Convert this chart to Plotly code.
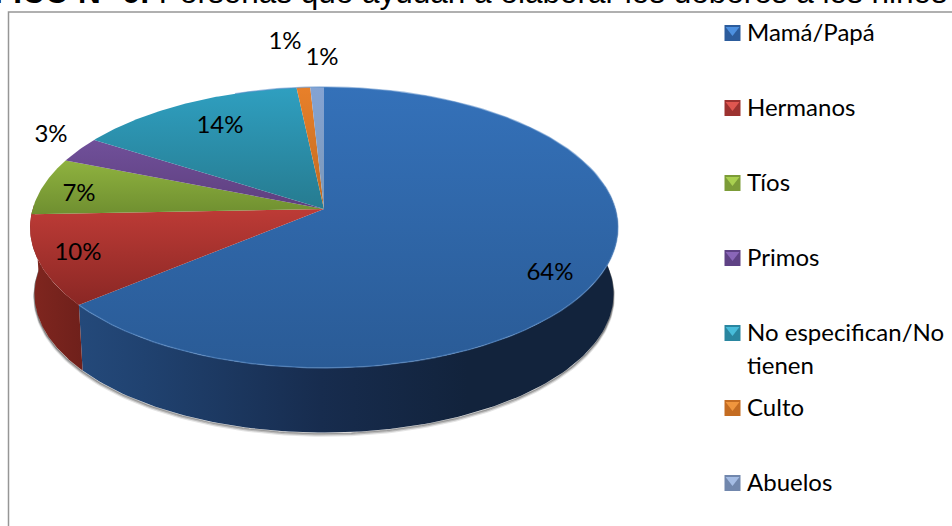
import numpy as np
import plotly.graph_objects as go

# ---- data ----
categories = ["Mamá/Papá", "Hermanos", "Tíos", "Primos", "No especifican/No tienen", "Culto", "Abuelos"]
values = [64.0, 10.4, 6.6, 3.0, 14.3, 0.85, 0.85]
legend_lines = [["Mamá/Papá"], ["Hermanos"], ["Tíos"], ["Primos"], ["No especifican/No", "tienen"], ["Culto"], ["Abuelos"]]
title_bold = "GRÁFICO N° 6:"
title_rest = " Personas que ayudan a elaborar los deberes a los niños"

# ---- styles ----
top_light = ["#3471b9", "#bd3b36", "#8fb23f", "#70509a", "#2f9fc0", "#e8802a", "#84a3d3"]
top_dark = ["#2a5b96", "#8a2724", "#6f8f30", "#5e3f7e", "#267b90", "#c06a20", "#7a98b8"]
swatch_dark = ["#2c5c9c", "#9c3230", "#7c9c38", "#5f4285", "#2a86a0", "#c46c22", "#7187ad"]
swatch_light = ["#4d90e0", "#e05650", "#a9d050", "#8a66b8", "#48bcda", "#f0963e", "#a4bce4"]
label_pos = [(550, 274), (78, 254), (79, 195), (51, 136), (220, 127), (285, 43), (322, 59)]
FONT = "Lato"

# ---- pie geometry (screen px) ----
CX, CY, A, B, P = 324, 209, 291.4, 138, 0.1316
DROP, SHRINK = 67, 0.985


def rim(theta, drop=0.0, k=1.0, r=1.0):
    u, v = r * np.sin(theta), r * np.cos(theta)
    d = 1 + P * v
    return CX + k * A * u / d, CY + drop - k * B * v / d


fig = go.Figure()
total = sum(values)
edges = np.radians(np.cumsum([0] + values) / total * 360)

# soft shadow under the bottom edge
ts = np.radians(np.linspace(75, 285, 200))
for off, alpha, w in [(3, 0.10, 2.5), (2, 0.18, 2), (1, 0.3, 1.5)]:
    x, y = rim(ts, DROP + off, SHRINK)
    fig.add_trace(go.Scatter(x=x, y=y, mode="lines", line=dict(color=f"rgba(0,0,0,{alpha})", width=w),
                             hoverinfo="skip", showlegend=False))

# side wall: first slice from the right extreme, second to the left extreme
walls = [
    (np.radians(80), edges[1], [[0, "#24497a"], [0.12, "#204270"], [0.45, "#172c4e"], [0.72, "#12233c"], [1, "#12233c"]]),
    (edges[1], np.radians(272), [[0, "#80261f"], [1, "#6f201b"]]),
]
for t0, t1, scale in walls:
    t = np.linspace(t0, t1, 120)
    xt, yt = rim(t)
    xb, yb = rim(t, DROP, SHRINK)
    x = np.r_[xt, xb[::-1]]
    y = np.r_[yt, yb[::-1]]
    fig.add_trace(go.Scatter(x=x, y=y, mode="lines", fill="toself", line=dict(width=0),
                             fillcolor="#172c4e",
                             fillgradient=dict(type="horizontal", colorscale=scale,
                                               start=float(x.min()), stop=float(x.max())),
                             hoverinfo="skip", showlegend=False))

# top surface
for i, name in enumerate(categories):
    t = np.linspace(edges[i], edges[i + 1], max(8, int(values[i] * 6)))
    xr, yr = rim(t)
    x = np.r_[CX, xr, CX]
    y = np.r_[CY, yr, CY]
    fig.add_trace(go.Scatter(x=x, y=y, mode="lines", fill="toself", name=name, line=dict(width=0),
                             fillcolor=top_light[i],
                             fillgradient=dict(type="vertical",
                                               colorscale=[[0, top_light[i]], [1, top_dark[i]]],
                                               start=float(y.min()), stop=float(y.max())),
                             hoverinfo="skip", showlegend=False))

# bevel highlight along the front rim
t = np.linspace(edges[0] - 0.35, edges[1], 80)
x, y = rim(t)
fig.add_trace(go.Scatter(x=x, y=y, mode="lines", line=dict(color="rgba(90,140,200,0.55)", width=1.5),
                         hoverinfo="skip", showlegend=False))

# percentage labels
fig.add_trace(go.Scatter(x=[p[0] for p in label_pos], y=[p[1] for p in label_pos], mode="text",
                         text=[f"{round(v)}%" for v in values],
                         textfont=dict(family=FONT, size=24, color="#000000"),
                         textposition="middle center", hoverinfo="skip", showlegend=False))

# legend
LEG_X, LEG_Y0, LEG_DY, LINE_DY, TXT_X = 732.5, 33, 75, 33, 747
ly = [LEG_Y0 + LEG_DY * i for i in range(len(categories))]
fig.add_trace(go.Scatter(x=[LEG_X] * len(ly), y=ly, mode="markers",
                         marker=dict(symbol="square", size=16, color=swatch_dark, line=dict(width=0)),
                         hoverinfo="skip", showlegend=False))
fig.add_trace(go.Scatter(x=[LEG_X] * len(ly), y=[v - 3 for v in ly], mode="markers",
                         marker=dict(symbol="triangle-down", size=12, color=swatch_light, line=dict(width=0)),
                         hoverinfo="skip", showlegend=False))
tx, ty, tt = [], [], []
for i, lines in enumerate(legend_lines):
    for j, s in enumerate(lines):
        tx.append(TXT_X)
        ty.append(ly[i] + 2 + j * LINE_DY)
        tt.append(s)
fig.add_trace(go.Scatter(x=tx, y=ty, mode="text", text=tt, textposition="middle right",
                         textfont=dict(family=FONT, size=24, color="#000000"),
                         hoverinfo="skip", showlegend=False))

fig.update_layout(
    width=952, height=526, autosize=False,
    margin=dict(l=0, r=0, t=0, b=0),
    paper_bgcolor="white", plot_bgcolor="white",
    xaxis=dict(range=[0, 952], visible=False, fixedrange=True),
    yaxis=dict(range=[526, 0], visible=False, fixedrange=True),
    shapes=[dict(type="rect", xref="x", yref="y", x0=8.5, y0=12, x1=960, y1=540,
                 line=dict(color="#969696", width=1.5), layer="below")],
    annotations=[dict(xref="paper", yref="paper", x=-78 / 952, y=1 + 8 / 526, xanchor="left", yanchor="middle",
                      text=f"<b>{title_bold}</b>{title_rest}", showarrow=False, align="left",
                      font=dict(family="Liberation Sans", size=31.5, color="#000000"))],
)
fig.write_html("out.html", post_script="document.body.style.margin='0';",
               config={"displayModeBar": False})
